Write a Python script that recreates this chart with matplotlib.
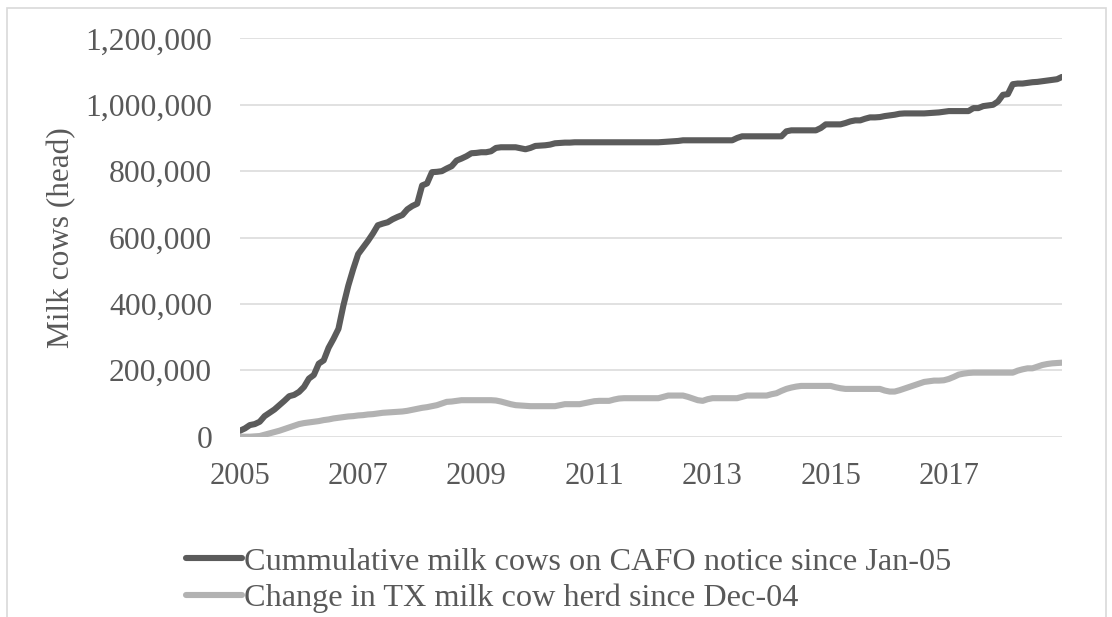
import matplotlib
matplotlib.use("Agg")
import matplotlib.pyplot as plt
from matplotlib.patches import Rectangle
from matplotlib.ticker import FuncFormatter, FixedLocator

# Monthly series, Jan-2005 .. Dec-2018 (thousand head)
cafo_cumulative = [
    18, 25, 35, 38, 45, 62, 72, 82, 95, 108, 122, 126,
    135, 150, 175, 186, 220, 230, 268, 295, 325, 395, 455, 505,
    550, 570, 590, 612, 637, 642, 646, 655, 662, 668, 685, 695,
    702, 757, 763, 797, 798, 800, 808, 815, 832, 838, 845, 854,
    855, 857, 857, 860, 870, 872, 872, 872, 872, 869, 866, 870,
    876, 877, 878, 880, 884, 885, 886, 886, 887, 887, 887, 887,
    887, 887, 887, 887, 887, 887, 887, 887, 887, 887, 887, 887,
    887, 887, 888, 889, 890, 891, 893, 893, 893, 893, 893, 893,
    893, 893, 893, 893, 893, 900, 905, 905, 905, 905, 905, 905,
    905, 905, 905, 920, 923, 923, 923, 923, 923, 923, 930, 941,
    941, 941, 941, 945, 950, 953, 953, 958, 962, 962, 963, 966,
    968, 970, 973, 974, 974, 974, 974, 974, 975, 976, 977, 979,
    981, 981, 981, 981, 981, 990, 990, 996, 998, 1000, 1010, 1030,
    1032, 1062, 1064, 1064, 1066, 1068, 1069, 1071, 1073, 1075, 1077, 1084,
]
tx_herd_change = [
    0, 0, 0, 1, 2, 6, 10, 14, 18, 23, 28, 33,
    38, 41, 43, 45, 47, 50, 52, 55, 57, 59, 61, 62,
    64, 65, 67, 68, 70, 72, 73, 74, 75, 76, 78, 81,
    84, 87, 89, 92, 95, 100, 105, 106, 108, 110, 110, 110,
    110, 110, 110, 110, 109, 106, 102, 98, 95, 94, 93, 92,
    92, 92, 92, 92, 92, 95, 98, 98, 98, 98, 101, 104,
    107, 108, 108, 108, 112, 115, 116, 116, 116, 116, 116, 116,
    116, 116, 120, 124, 124, 124, 124, 120, 115, 110, 108, 113,
    116, 116, 116, 116, 116, 116, 120, 124, 124, 124, 124, 124,
    128, 131, 138, 144, 148, 151, 153, 153, 153, 153, 153, 153,
    153, 149, 146, 144, 144, 144, 144, 144, 144, 144, 144, 139,
    136, 136, 140, 145, 150, 155, 160, 165, 167, 169, 169, 170,
    174, 180, 187, 190, 192, 193, 193, 193, 193, 193, 193, 193,
    193, 193, 199, 203, 206, 206, 211, 216, 219, 221, 222, 223,
]
year_labels = ["2005", "2007", "2009", "2011", "2013", "2015", "2017"]
series_names = [
    "Cummulative milk cows on CAFO notice since Jan-05",
    "Change in TX milk cow herd since Dec-04",
]

plt.rcParams["font.family"] = ["Liberation Serif", "DejaVu Serif"]
TEXT = "#595959"

W, H = 1112, 617
fig = plt.figure(figsize=(W / 100, H / 100), dpi=100)
fig.patch.set_facecolor("white")

# chart-area border
fig.patches.append(Rectangle((7 / W, -0.05), 1099 / W, 1.05 - 8 / H,
                             transform=fig.transFigure, fill=False,
                             edgecolor="#D9D9D9", linewidth=1.2))

ax = fig.add_axes([240 / W, 1 - 436.7 / H, 822 / W, 398.3 / H])

months = list(range(len(cafo_cumulative)))
cafo = [v * 1000 for v in cafo_cumulative]
herd = [v * 1000 for v in tx_herd_change]

ax.plot(months, cafo, color="#5B5B5B", lw=4.4, solid_capstyle="round",
        solid_joinstyle="round", label=series_names[0], zorder=3)
ax.plot(months, herd, color="#B2B2B2", lw=4.4, solid_capstyle="round",
        solid_joinstyle="round", label=series_names[1], zorder=2)

ax.set_xlim(0, len(months) - 1)
ax.set_ylim(0, 1200000)
ax.yaxis.set_major_locator(FixedLocator(range(0, 1200001, 200000)))
ax.yaxis.set_major_formatter(FuncFormatter(lambda v, p: f"{int(v):,}"))
ax.xaxis.set_major_locator(FixedLocator([i * 24 for i in range(len(year_labels))]))
ax.set_xticklabels(year_labels)

ax.grid(axis="y", color="#D9D9D9", lw=1.1)
ax.set_axisbelow(True)
for s in ax.spines.values():
    s.set_visible(False)
ax.tick_params(axis="both", length=0, colors=TEXT)
ax.tick_params(axis="y", pad=20, labelsize=22.8)
ax.tick_params(axis="x", pad=18, labelsize=22)

fig.text(62 / W, 1 - 238 / H, "Milk cows (head)", rotation=90,
         ha="center", va="center", fontsize=22.5, color=TEXT)

leg = ax.legend(loc="upper left", bbox_to_anchor=(186 / W, 1 - 547 / H),
                bbox_transform=fig.transFigure, frameon=False, fontsize=23.2,
                handlelength=1.75, handletextpad=0.06, labelspacing=0.22,
                borderaxespad=0, borderpad=0)
for t in leg.get_texts():
    t.set_color(TEXT)

fig.savefig("out.png", dpi=100, facecolor="white")
